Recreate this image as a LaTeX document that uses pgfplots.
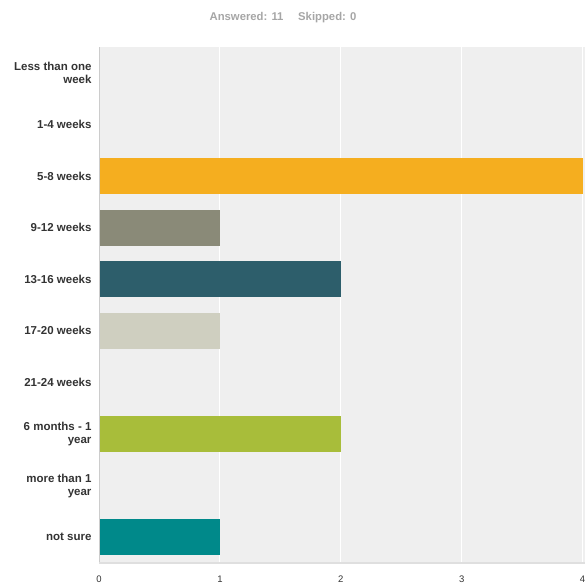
\documentclass[border=0pt]{standalone}
\usepackage{pgfplots}
\pgfplotsset{compat=1.18}
\usepackage{fontspec}
\setmainfont{Liberation Sans}
\definecolor{bgc}{HTML}{EFEFEF}
\definecolor{c58}{HTML}{F5AE1F}
\definecolor{c912}{HTML}{8A8A78}
\definecolor{c1316}{HTML}{2D5E6B}
\definecolor{c1720}{HTML}{CFCFC0}
\definecolor{c6m}{HTML}{A8BD3A}
\definecolor{cns}{HTML}{00898A}
\definecolor{lab}{HTML}{333333}
\begin{document}
\begin{tikzpicture}
\useasboundingbox (0,0) rectangle (585pt,585pt);
\begin{axis}[
  at={(99pt,22pt)}, anchor=south west,
  scale only axis, width=486pt, height=516pt,
  xmin=0, xmax=4.02, ymin=-0.5, ymax=9.5, y dir=reverse,
  axis background/.style={fill=bgc},
  axis line style={draw=none},
  xtick={0,1,2,3,4}, ytick={0,...,9},
  yticklabels={{Less than one\\week},{1-4 weeks},{5-8 weeks},{9-12 weeks},{13-16 weeks},{17-20 weeks},{21-24 weeks},{6 months - 1\\year},{more than 1\\year},{not sure}},
  yticklabel style={align=right, font=\fontsize{11.5}{13}\selectfont\bfseries, text=lab, xshift=-4pt},
  xticklabel style={font=\fontsize{9.5}{11}\selectfont, text=lab, yshift=-9pt},
  /pgf/number format/assume math mode=true,
  major tick length=0pt,
  xmajorgrids, grid style={white, line width=1pt},
  xbar, bar width=36pt, bar shift=0pt,
]
\addplot[draw=none, fill=c58] coordinates {(4,2)};
\addplot[draw=none, fill=c912] coordinates {(1,3)};
\addplot[draw=none, fill=c1316] coordinates {(2,4)};
\addplot[draw=none, fill=c1720] coordinates {(1,5)};
\addplot[draw=none, fill=c6m] coordinates {(2,7)};
\addplot[draw=none, fill=cns] coordinates {(1,9)};
\draw[color=gray!40, line width=1pt] (rel axis cs:0,0) -- (rel axis cs:0,1);
\draw[color=gray!25, line width=1.5pt] (rel axis cs:0,0) -- (rel axis cs:1,0);
\end{axis}
\node[text=gray!70, font=\fontsize{11.3}{13}\selectfont\bfseries] at (283pt,567pt) {Answered: 11\hspace{1.3em}Skipped: 0};
\end{tikzpicture}
\end{document}
